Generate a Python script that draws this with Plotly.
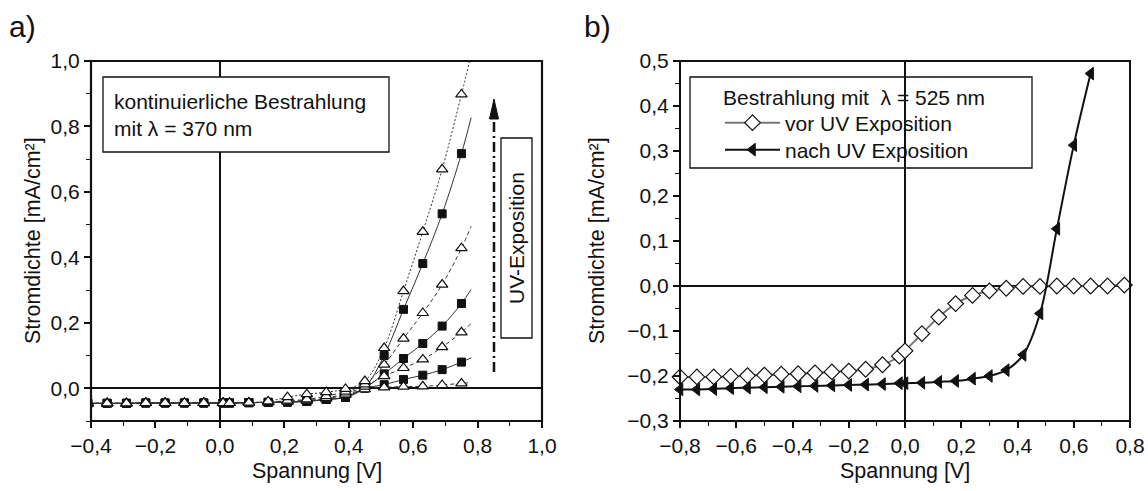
import plotly.graph_objects as go

W, H = 1148, 491

# ---------------- Teil a): kontinuierliche Bestrahlung, 370 nm ----------------
volt_a = [-0.41, -0.35, -0.29, -0.23, -0.17, -0.11, -0.05, 0.01, 0.03, 0.09,
          0.15, 0.21, 0.27, 0.33, 0.39, 0.45, 0.51, 0.57, 0.63, 0.69, 0.75]
volt_a_end = 0.78

# Dreiecke (offen, gestrichelt) und Quadrate (gefüllt, durchgezogen), von unten nach oben
tri_1 = [-0.046, -0.046, -0.046, -0.045, -0.045, -0.045, -0.045, -0.045, -0.045,
         -0.044, -0.043, -0.041, -0.038, -0.032, -0.020, -0.003, 0.003, 0.005, 0.006, 0.010, 0.015]
sq_1 = [-0.046, -0.046, -0.046, -0.045, -0.045, -0.045, -0.045, -0.045, -0.045,
        -0.044, -0.043, -0.042, -0.040, -0.034, -0.027, 0.000, 0.011, 0.027, 0.040, 0.057, 0.080]
tri_2 = [-0.046, -0.046, -0.046, -0.045, -0.045, -0.045, -0.045, -0.045, -0.045,
         -0.044, -0.042, -0.040, -0.037, -0.030, -0.016, 0.005, 0.037, 0.062, 0.088, 0.126, 0.171]
sq_2 = [-0.046, -0.046, -0.046, -0.045, -0.045, -0.045, -0.045, -0.045, -0.045,
        -0.044, -0.043, -0.042, -0.040, -0.034, -0.027, 0.001, 0.044, 0.091, 0.137, 0.190, 0.259]
tri_3 = [-0.046, -0.046, -0.046, -0.045, -0.045, -0.045, -0.045, -0.045, -0.045,
         -0.044, -0.042, -0.038, -0.034, -0.024, -0.010, 0.012, 0.072, 0.152, 0.230, 0.317, 0.428]
sq_3 = [-0.046, -0.046, -0.046, -0.045, -0.045, -0.045, -0.045, -0.045, -0.045,
        -0.044, -0.043, -0.042, -0.040, -0.034, -0.028, 0.003, 0.100, 0.241, 0.381, 0.533, 0.717]
tri_4 = [-0.046, -0.046, -0.046, -0.045, -0.045, -0.045, -0.045, -0.045, -0.045,
         -0.044, -0.040, -0.027, -0.018, -0.012, -0.002, 0.022, 0.123, 0.297, 0.478, 0.669, 0.898]

# Kurvenenden jenseits des letzten Messpunkts
end_tri_1, end_sq_1 = 0.017, 0.093
end_tri_2, end_sq_2 = 0.198, 0.302
end_tri_3, end_sq_3 = 0.495, 0.827
end_tri_4 = 1.02

# ---------------- Teil b): Bestrahlung mit 525 nm ----------------
volt_b = [-0.80, -0.74, -0.68, -0.62, -0.56, -0.50, -0.44, -0.38, -0.32, -0.26,
          -0.20, -0.14, -0.08, -0.02, 0.00, 0.06, 0.12, 0.18, 0.24, 0.30,
          0.36, 0.42, 0.48, 0.54, 0.60, 0.66, 0.72, 0.78]
vor_uv = [-0.202, -0.202, -0.202, -0.201, -0.199, -0.198, -0.196, -0.195, -0.193, -0.191,
          -0.189, -0.185, -0.175, -0.156, -0.144, -0.106, -0.069, -0.039, -0.021, -0.011,
          -0.005, -0.001, -0.001, 0.000, 0.000, 0.000, 0.000, 0.002]
volt_b_nach = [-0.80, -0.74, -0.68, -0.62, -0.56, -0.50, -0.44, -0.38, -0.32, -0.26,
               -0.20, -0.14, -0.08, -0.02, 0.00, 0.06, 0.12, 0.18, 0.24, 0.30,
               0.36, 0.42, 0.48, 0.54, 0.60, 0.66]
nach_uv = [-0.230, -0.230, -0.229, -0.227, -0.226, -0.225, -0.224, -0.223, -0.222, -0.221,
           -0.220, -0.219, -0.218, -0.216, -0.216, -0.215, -0.213, -0.211, -0.206, -0.200,
           -0.187, -0.153, -0.061, 0.127, 0.313, 0.472]

FONT = "Liberation Sans, Arial, sans-serif"
INK = "#111111"


def px(x):
    return x / W


def py(y):
    return 1 - y / H


fig = go.Figure()

tri_sets = [(tri_1, end_tri_1, "4px,3px"), (tri_2, end_tri_2, "4px,3px"),
            (tri_3, end_tri_3, "4px,3px"), (tri_4, end_tri_4, "2px,2px")]
sq_sets = [(sq_1, end_sq_1), (sq_2, end_sq_2), (sq_3, end_sq_3)]

for vals, end, dash in tri_sets:
    fig.add_trace(go.Scatter(x=volt_a + [volt_a_end], y=vals + [end], mode="lines",
                             line=dict(color="#333333", width=1, dash=dash, shape="spline"),
                             showlegend=False, xaxis="x", yaxis="y", hoverinfo="skip"))
for vals, end in sq_sets:
    fig.add_trace(go.Scatter(x=volt_a + [volt_a_end], y=vals + [end], mode="lines",
                             line=dict(color="#333333", width=1, shape="spline"),
                             showlegend=False, xaxis="x", yaxis="y", hoverinfo="skip"))
for vals, _ in sq_sets:
    fig.add_trace(go.Scatter(x=volt_a, y=vals, mode="markers",
                             marker=dict(symbol="square", size=8, color=INK,
                                         line=dict(color=INK, width=1)),
                             showlegend=False, xaxis="x", yaxis="y"))
for vals, _, _ in tri_sets:
    fig.add_trace(go.Scatter(x=volt_a, y=vals, mode="markers",
                             marker=dict(symbol="triangle-up", size=10, color="white",
                                         line=dict(color=INK, width=1.2)),
                             showlegend=False, xaxis="x", yaxis="y"))

fig.add_trace(go.Scatter(x=volt_b, y=vor_uv, mode="lines+markers", name="vor UV Exposition",
                         line=dict(color="#777777", width=2, shape="spline"),
                         marker=dict(symbol="diamond", size=12, color="white",
                                     line=dict(color=INK, width=1.2)),
                         cliponaxis=False, xaxis="x2", yaxis="y2", legend="legend"))
fig.add_trace(go.Scatter(x=volt_b_nach, y=nach_uv, mode="lines+markers", name="nach UV Exposition",
                         line=dict(color=INK, width=2, shape="spline"),
                         marker=dict(symbol="triangle-left", size=11, color=INK,
                                     line=dict(color=INK, width=1)),
                         cliponaxis=False, xaxis="x2", yaxis="y2", legend="legend2"))

# Lage der beiden Diagrammflächen (Pixel)
A_L, A_R, B_L, B_R, TOP, BOT = 91, 542, 680, 1130, 61, 421
xa_dom = [px(A_L), px(A_R)]
xb_dom = [px(B_L), px(B_R)]
y_dom = [py(BOT), py(TOP)]

tickfont = dict(family=FONT, size=21, color=INK)


def main_axis(rng, dtick, minor, domain, anchor, zw):
    return dict(range=rng, domain=domain, anchor=anchor, dtick=dtick, tick0=0,
                tickformat=".1f", ticks="outside", ticklen=6, tickwidth=1.6, tickcolor=INK,
                minor=dict(dtick=minor, tick0=0, ticks="outside", ticklen=4, tickwidth=1.4,
                           tickcolor=INK),
                showline=False, mirror=False,
                showgrid=False, zeroline=True, zerolinecolor=INK, zerolinewidth=zw,
                tickfont=tickfont, fixedrange=True, automargin=False)


def tick_axis(rng, dtick, domain, side, anchor):
    # zusätzliche Achse nur für die nach innen zeigenden Striche oben/rechts
    return dict(range=rng, domain=domain, side=side, anchor=anchor, dtick=dtick, tick0=0,
                ticks="inside", ticklen=5, tickwidth=1.4, tickcolor=INK,
                showticklabels=False, showline=False,
                showgrid=False, zeroline=False, fixedrange=True, automargin=False)


fig.update_layout(
    xaxis=main_axis([-0.4, 1.0], 0.2, 0.1, xa_dom, "y", 2),
    yaxis=main_axis([-0.1, 1.0], 0.2, 0.1, y_dom, "x", 2),
    xaxis2=main_axis([-0.8, 0.8], 0.2, 0.1, xb_dom, "y2", 1.5),
    yaxis2=main_axis([-0.3, 0.5], 0.1, 0.05, y_dom, "x2", 1.5),
    xaxis3=tick_axis([-0.4, 1.0], 0.1, xa_dom, "top", "y"),
    yaxis3=tick_axis([-0.1, 1.0], 0.1, y_dom, "right", "x"),
    xaxis4=tick_axis([-0.8, 0.8], 0.1, xb_dom, "top", "y2"),
    yaxis4=tick_axis([-0.3, 0.5], 0.05, y_dom, "right", "x2"),
)

legend_common = dict(xanchor="left", yanchor="middle", bgcolor="rgba(0,0,0,0)", borderwidth=0,
                     font=dict(family=FONT, size=21, color=INK), itemwidth=55)

fig.update_layout(
    width=W, height=H, margin=dict(l=0, r=0, t=0, b=0, autoexpand=False),
    paper_bgcolor="white", plot_bgcolor="rgba(0,0,0,0)",
    separators=", ",
    font=dict(family=FONT, color=INK),
    legend=dict(legend_common, x=px(720), y=py(123)),
    legend2=dict(legend_common, x=px(720), y=py(150)),
)

shapes = [
    # Rahmen beider Diagramme
    dict(type="rect", xref="paper", yref="paper", x0=px(A_L), x1=px(A_R), y0=py(BOT), y1=py(TOP),
         line=dict(color=INK, width=2.2), layer="above"),
    dict(type="rect", xref="paper", yref="paper", x0=px(B_L), x1=px(B_R), y0=py(BOT), y1=py(TOP),
         line=dict(color=INK, width=2), layer="above"),
    # Textkasten Teil a
    dict(type="rect", xref="paper", yref="paper", x0=px(103), x1=px(389), y0=py(77), y1=py(152),
         line=dict(color=INK, width=1.3), fillcolor="white", layer="above"),
    # Kasten „UV-Exposition“
    dict(type="rect", xref="paper", yref="paper", x0=px(501), x1=px(532), y0=py(138), y1=py(338),
         line=dict(color=INK, width=1.3), fillcolor="white", layer="above"),
    # Pfeil (Strich-Punkt) mit Spitze
    dict(type="line", xref="paper", yref="paper", x0=px(494), x1=px(494), y0=py(372), y1=py(117),
         line=dict(color=INK, width=2.5, dash="10px,4px,2px,4px")),
    dict(type="path", xref="paper", yref="paper",
         path=f"M {px(494)},{py(99)} L {px(489.5)},{py(119)} L {px(498.5)},{py(119)} Z",
         fillcolor=INK, line=dict(color=INK, width=1)),
    # Legendenkasten Teil b
    dict(type="rect", xref="paper", yref="paper", x0=px(690), x1=px(1032), y0=py(77), y1=py(168),
         line=dict(color=INK, width=1.3), fillcolor="rgba(0,0,0,0)", layer="above"),
]

title_font = dict(family=FONT, size=21.5, color=INK)
box_font = dict(family=FONT, size=21, color=INK)
annotations = [
    dict(text="a)", x=px(7), y=py(27), xref="paper", yref="paper", xanchor="left",
         yanchor="middle", showarrow=False, font=dict(family=FONT, size=30, color=INK)),
    dict(text="b)", x=px(582), y=py(27), xref="paper", yref="paper", xanchor="left",
         yanchor="middle", showarrow=False, font=dict(family=FONT, size=30, color=INK)),
    dict(text="kontinuierliche Bestrahlung<br>mit \u03bb = 370 nm", x=px(112), y=py(115),
         xref="paper", yref="paper", xanchor="left", yanchor="middle", align="left",
         showarrow=False, font=box_font),
    dict(text="UV-Exposition", x=px(517), y=py(238), xref="paper", yref="paper",
         xanchor="center", yanchor="middle", textangle=-90, showarrow=False, font=box_font),
    dict(text="Bestrahlung mit \u00a0\u03bb = 525 nm", x=px(721), y=py(97), xref="paper",
         yref="paper", xanchor="left", yanchor="middle", showarrow=False, font=box_font),
    dict(text="Spannung [V]", x=px(316.5), y=py(471), xref="paper", yref="paper",
         xanchor="center", yanchor="middle", showarrow=False, font=title_font),
    dict(text="Spannung [V]", x=px(905), y=py(471), xref="paper", yref="paper",
         xanchor="center", yanchor="middle", showarrow=False, font=title_font),
    dict(text="Stromdichte [mA/cm²]", x=px(33), y=py(241), xref="paper", yref="paper",
         xanchor="center", yanchor="middle", textangle=-90, showarrow=False, font=title_font),
    dict(text="Stromdichte [mA/cm²]", x=px(597), y=py(241), xref="paper", yref="paper",
         xanchor="center", yanchor="middle", textangle=-90, showarrow=False, font=title_font),
]

fig.update_layout(shapes=shapes, annotations=annotations)

fig.write_html("out.html")
